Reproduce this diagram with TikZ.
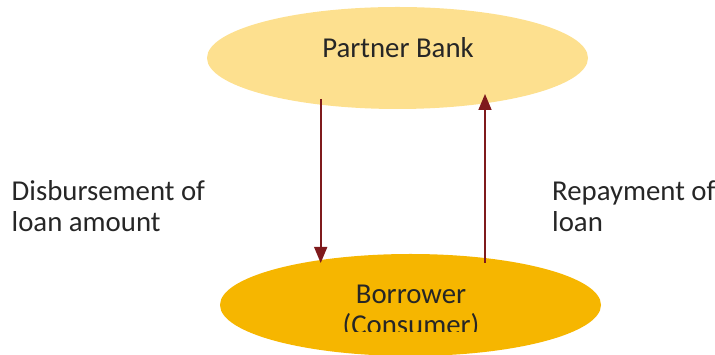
\documentclass[tikz,border=0pt]{standalone}
\usepackage{fontspec}
\setmainfont{Carlito}
\usetikzlibrary{positioning,arrows.meta,shapes.geometric,calc}
\definecolor{bankgold}{HTML}{FDE08F}
\definecolor{borrowgold}{HTML}{F6B600}
\definecolor{flowred}{HTML}{7F1A1C}
\definecolor{inkgray}{HTML}{262626}

\begin{document}
\begin{tikzpicture}[
  x=1pt, y=1pt,
  font=\fontsize{28.8}{31}\selectfont,
  party/.style={ellipse, minimum width=381pt, minimum height=102pt, inner sep=0pt},
  bankshape/.style={party, fill=bankgold},
  borrowshape/.style={party, fill=borrowgold},
  flow/.style={-{Triangle[length=16pt, width=13pt]}, line width=1.6pt, flowred},
  lbl/.style={text=inkgray, inner sep=0pt}
]
\useasboundingbox (0,0) rectangle (715,355);
% ---------- parties ----------
\node[bankshape] (pbank) at (397.5,297) {};
\node[lbl, anchor=base] (pbanklab) at (398,297) {Partner Bank};
\node[borrowshape] (borrower) at (410.5,50) {};
\begin{scope}
  \clip (0,23) rectangle (715,355);
  \node[lbl, align=center, anchor=base] (borrowerlab) at (411,20) {Borrower\\(Consumer)};
\end{scope}
% ---------- money flows ----------
\draw[flow] ($(pbank.center)+(-76.8,-41)$) -- ($(borrower.center)+(-89.8,42)$);
\draw[flow] ($(borrower.center)+(74.5,42)$) -- ($(pbank.center)+(87.5,-36)$);
\node[lbl, align=left, anchor=base west] (disblab) at (11.5,123.3) {Disbursement of\\loan amount};
\node[lbl, align=left, anchor=base west] (repaylab) at (552,123.3) {Repayment of\\loan};
\end{tikzpicture}
\end{document}
